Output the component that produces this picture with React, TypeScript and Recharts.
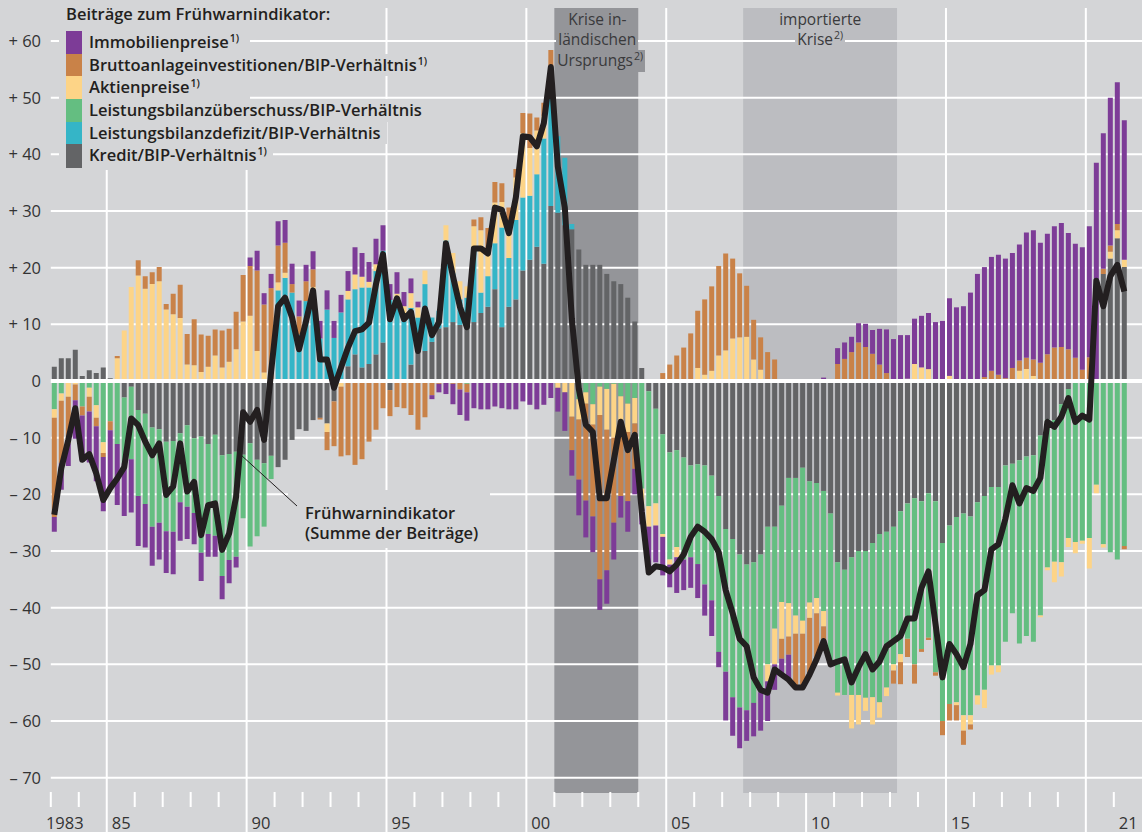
import React from "react";
import {
  Bar,
  ComposedChart,
  Line,
  ReferenceArea,
  ReferenceLine,
  XAxis,
  YAxis,
} from "recharts";

// quarterly contributions, 1983 Q1 - 2021 Q2 (four values per row = one year)
const FIRST_YEAR = 1983;

const kredit = [
  2.5, 4.0, 4.0, 5.5, 0.9, 1.9, 1.4, 2.4,
  0.5, 0, -2.9, -1.0, -5.1, -5.8, -8.2, -8.5,
  -10.7, -10.6, -9.2, -7.8, -10.1, -9.8, -11.1, -9.5,
  -13.1, -12.9, -12.5, -13.0, -11.0, -13.9, -14.5, -13.2,
  -15.2, -13.9, -10.4, -8.5, -8.8, -6.9, -6.5, -7.5,
  -3.6, 0, 2.6, 4.7, 2.4, 3.0, 4.7, 6.8,
  -1.6, 0, 0, 2.9, 5.3, 5.3, 6.9, 9.3,
  9.5, 10.4, 9.9, 10.2, 10.4, 12.0, 13.1, 16.2,
  9.5, 13.1, 14.4, 19.5, 21.4, 23.7, 20.7, 30.9,
  29.7, 27.5, 26.8, 23.2, 20.5, 20.5, 20.5, 18.9,
  17.6, 17.1, 14.7, 10.5, 2.3, -1.8, -4.9, -9.4,
  -12.6, -12.2, -13.5, -14.9, -14.7, -14.9, -16.7, -20.3,
  -26.1, -27.9, -30.6, -32.4, -32.0, -30.6, -25.7, -25.7,
  -22.0, -17.1, -17.1, -15.3, -17.7, -18.0, -19.4, -23.4,
  -32.0, -33.3, -31.1, -30.0, -30.0, -28.6, -27.0, -26.6,
  -25.7, -23.0, -21.6, -20.7, -21.2, -19.8, -21.2, -28.6,
  -25.5, -24.0, -23.4, -23.9, -21.4, -20.3, -18.7, -18.7,
  -14.9, -14.6, -14.0, -13.3, -13.1, -9.6, -6.8, -6.9,
  -4.1, -1.4, 0, 0, 0, 0, 18.9, 21.6,
  25.2, 20.1,
];

const lbDefizit = [
  0, 0, 0, 0, 0, 0, 0, 0,
  0, 0, 0, 0, 0, 0, 0, 0,
  0, 0, 0, 0, 0, 0, 0, 0,
  0, 0, 0, 0, 0, 0, 0, 0,
  16.0, 18.2, 15.6, 8.2, 14.1, 15.9, 7.5, 12.6,
  7.6, 12.1, 11.8, 11.5, 14.1, 13.5, 14.7, 16.2,
  14.3, 14.6, 12.0, 10.0, 5.9, 11.8, 4.3, 3.1,
  15.3, 8.6, 4.5, 4.5, 12.9, 3.6, 5.4, 8.1,
  17.6, 8.6, 14.0, 12.9, 11.3, 12.8, 22.1, 24.5,
  13.5, 11.9, 0.9, 0, 0, 0, 0, 0,
  0, 0, 0, 0, 0, 0, 0, 0,
  0, 0, 0, 0, 0, 0, 0, 0,
  0, 0, 0, 0, 0, 0, 0, 0,
  0, 0, 0, 0, 0, 0, 0, 0,
  0, 0, 0, 0, 0, 0, 0, 0,
  0, 0, 0, 0, 0, 0, 0, 0,
  0, 0, 0, 0, 0, 0, 0, 0,
  0, 0, 0, 0, 0, 0, 0, 0,
  0, 0, 0, 0, 0, 0, 0, 0,
  0, 0,
];

const lbUeberschuss = [
  -5.0, -2.2, 0, 0, -4.5, -1.2, -4.3, -10.8,
  -7.1, -11.1, -11.6, -12.8, -15.2, -15.9, -17.5, -16.5,
  -15.8, -16.0, -12.2, -14.4, -13.2, -20.5, -15.9, -17.8,
  -21.3, -18.7, -18.5, -11.2, -18.2, -13.5, -11.2, -4.1,
  0, 0, 0, 0, 0, 0, 0, 0,
  0, 0, 0, 0, 0, 0, 0, 0,
  0, 0, 0, 0, 0, 0, 0, 0,
  0, 0, 0, -0.5, 0, 0, 0, 0,
  0, 0, 0, 0, 0, 0, 0, 0,
  0, 0, 0, -3.2, -2.0, -4.1, -1.0, -1.4,
  -0.5, -2.7, -4.0, -3.0, -19.0, -20.3, -16.7, -17.6,
  -18.9, -17.1, -18.0, -16.2, -17.6, -21.0, -22.0, -27.5,
  -25.2, -27.9, -27.0, -25.7, -24.8, -24.3, -24.3, -18.0,
  -17.0, -22.1, -24.3, -27.0, -21.4, -20.3, -21.2, -26.1,
  -23.0, -22.1, -24.3, -25.4, -25.9, -27.2, -29.7, -27.5,
  -24.3, -25.2, -23.9, -29.3, -26.1, -25.5, -30.2, -31.4,
  -31.5, -32.7, -35.6, -35.1, -34.1, -34.2, -31.5, -31.5,
  -31.1, -26.4, -32.3, -31.7, -32.9, -31.8, -26.1, -25.0,
  -27.9, -26.3, -28.4, -28.2, -27.7, -18.3, -28.8, -30.2,
  -31.5, -29.1,
];

const aktien = [
  -1.5, -1.3, -2.8, -0.6, 0, -1.6, -2.2, -1.9,
  0, 4.0, 8.9, 16.6, 18.6, 16.3, 17.1, 17.6,
  12.6, 11.8, 11.1, 2.9, 2.8, 1.6, 2.5, 4.5,
  2.4, 3.4, 5.6, 10.5, 11.5, 5.3, 1.5, 0,
  1.4, 0.9, 0, 0, 0, 0.7, 0, -1.5,
  0, -1.0, 1.5, 2.6, 1.9, 1.0, 1.2, 0,
  0, 0.8, 1.2, 2.6, 1.8, 2.4, 0, 0,
  2.7, 3.6, 3.2, 2.0, 4.0, 11.0, 4.0, 7.2,
  4.5, 5.4, 7.5, 11.3, 8.4, 7.7, 4.0, 0,
  -1.2, -2.0, -6.3, -3.6, -2.0, -3.6, -5.0, -7.2,
  -9.5, -5.0, -5.0, -4.5, -3.5, -3.6, -3.9, -0.5,
  -0.9, -1.8, 0, 0, 2.3, 1.1, 1.8, 4.5,
  5.4, 7.5, 7.7, 7.8, 3.8, 2.0, -3.0, -6.3,
  -6.5, -5.9, -3.2, -2.3, -2.7, -2.7, -2.7, -0.5,
  -0.5, 0, -5.9, -5.2, -2.3, -4.8, -2.7, -1.5,
  -1.1, -1.4, 0.4, 3.0, 2.4, 2.1, 0, 0,
  0.9, -0.5, -2.7, -1.6, -1.6, -3.2, -1.6, -1.2,
  0, 0, 1.8, 2.1, 0.9, -0.3, -0.5, -3.6,
  -2.5, -1.6, -2.0, -0.5, -5.4, -1.5, -0.6, 1.2,
  1.4, 1.3,
];

const brutto = [
  -17.5, -11.0, -8.2, -2.8, -1.6, -2.6, -1.5, -0.7,
  -1.6, 0.4, 0, 0, 2.7, 2.2, 2.1, 2.5,
  1.0, 3.6, 5.9, 5.4, 8.1, 6.6, 5.5, 4.6,
  6.5, 5.8, 6.6, 8.2, 8.8, 14.2, 12.0, 16.4,
  6.5, 5.3, 1.5, 3.2, 3.5, 3.1, -0.3, -3.2,
  -7.9, -12.3, -13.1, -14.8, -13.8, -10.7, -8.6, -4.8,
  -4.6, -4.6, -4.8, -6.0, -8.6, -6.4, -2.5, -0.5,
  0, -0.5, -1.5, -1.5, 1.2, 2.3, 4.5, 3.6,
  3.3, 3.5, 1.5, 3.6, 6.1, 2.3, 2.3, 3.0,
  0, 0, -5.9, -10.6, -17.1, -16.2, -29.0, -24.8,
  -15.0, -12.6, -12.2, -8.0, 0, 0, 0, 1.4,
  2.9, 4.5, 5.9, 8.4, 10.1, 13.3, 14.9, 15.8,
  17.1, 14.1, 11.3, 9.0, 7.0, 5.7, 5.1, 3.8,
  -3.5, -3.2, -9.4, -9.5, -9.9, -8.1, -3.6, 0,
  3.0, 3.9, 5.1, 6.8, 6.0, 4.8, 2.9, 1.4,
  -2.3, -3.9, -3.2, -3.4, -0.5, -0.4, -0.6, -2.5,
  -2.9, -2.7, -2.5, -0.9, 0, 0.7, 1.8, 1.1,
  0.5, 2.3, 1.8, 2.0, 2.9, 3.2, 4.7, 5.9,
  6.0, 5.6, 4.1, 2.0, 4.2, 0, 0.9, 1.1,
  1.1, -0.6,
];

const immobilien = [
  -2.6, -4.7, -4.0, -6.8, -8.2, -9.0, -9.7, -9.6,
  -10.5, -10.8, -9.3, -9.4, -8.8, -7.7, -6.9, -6.5,
  -7.4, -7.5, -6.8, -5.7, -5.5, -5.0, -4.0, -3.7,
  -4.1, -4.1, -1.9, 0, 1.5, 3.5, 2.0, 2.5,
  4.3, 4.0, 3.6, 2.8, 2.9, 3.2, 3.1, 3.4,
  3.0, 3.1, 3.5, 4.8, 4.2, 3.5, 4.5, 4.5,
  2.8, 3.8, 2.5, 2.6, 1.0, 0, -0.7, -1.5,
  -2.3, -3.6, -4.5, -5.0, -4.8, -5.0, -5.0, -4.5,
  -4.8, -5.0, -5.0, -3.6, -4.2, -5.0, -4.2, -3.0,
  -4.2, -6.8, -4.5, -6.3, -6.5, -6.3, -5.4, -5.9,
  -6.5, -3.8, -5.4, -4.5, -2.8, -8.1, -6.5, -6.8,
  -4.0, -6.3, -5.4, -5.4, -6.0, -5.5, -6.3, -2.7,
  -8.6, -6.8, -7.2, -5.4, -5.9, -6.8, -7.0, -4.5,
  -2.8, -4.4, 0, 0, 0, 0, 0.6, 0,
  2.8, 2.9, 2.7, 3.4, 4.1, 4.2, 6.3, 7.7,
  7.4, 8.1, 7.7, 8.0, 9.1, 9.9, 10.4, 10.6,
  13.7, 13.0, 13.2, 15.6, 18.9, 19.4, 20.1, 21.2,
  21.1, 20.3, 20.5, 22.1, 22.8, 21.2, 21.3, 21.4,
  21.9, 20.5, 20.1, 21.6, 23.1, 38.5, 23.9, 26.1,
  25.0, 24.6,
];

const fruehwarn = [
  -23.6, -15.4, -10.4, -4.8, -13.9, -12.9, -16.3, -21.0,
  -18.9, -17.2, -15.2, -6.6, -7.8, -10.7, -13.1, -11.0,
  -20.1, -18.6, -11.0, -19.5, -17.8, -27.2, -21.9, -21.6,
  -29.8, -26.9, -20.4, -5.5, -7.2, -5.1, -10.4, 1.6,
  13.2, 14.7, 11.2, 5.6, 10.6, 16.0, 3.8, 3.8,
  -1.2, 2.4, 5.9, 8.8, 9.1, 10.3, 17.1, 22.4,
  10.9, 14.6, 10.9, 12.2, 5.3, 12.8, 8.1, 10.4,
  24.3, 18.5, 13.1, 9.5, 23.4, 23.4, 22.5, 30.6,
  30.2, 26.1, 32.4, 43.2, 43.0, 41.4, 45.5, 55.4,
  37.8, 30.6, 11.0, -1.4, -7.7, -9.0, -20.7, -20.7,
  -14.0, -7.2, -12.2, -9.5, -23.0, -33.8, -32.7, -32.9,
  -33.6, -32.4, -30.6, -27.5, -25.7, -26.6, -27.9, -30.2,
  -36.9, -41.0, -45.5, -46.8, -52.3, -54.5, -55.0, -50.9,
  -51.8, -52.7, -54.1, -54.1, -51.8, -49.1, -45.9, -50.0,
  -49.5, -49.1, -53.2, -50.5, -48.2, -50.9, -49.5, -46.8,
  -45.9, -45.0, -41.9, -41.9, -36.5, -33.6, -42.8, -52.3,
  -46.4, -48.2, -50.5, -46.4, -37.8, -36.9, -29.7, -28.8,
  -24.3, -18.4, -21.6, -18.9, -19.4, -17.1, -7.2, -8.1,
  -6.3, -3.0, -7.2, -6.1, -6.8, 17.7, 13.2, 18.5,
  20.5, 15.8,
];

const yTicks = [-70, -60, -50, -40, -30, -20, -10, 0, 10, 20, 30, 40, 50, 60];
const yearLabels: Record<number, string> = {
  1983: "1983", 1985: "85", 1990: "90", 1995: "95", 2000: "00",
  2005: "05", 2010: "10", 2015: "15", 2021: "21",
};
const lastYear = 2021;

const quarters = kredit.map(
  (_, i) => `${FIRST_YEAR + Math.floor(i / 4)} Q${(i % 4) + 1}`
);

const data = quarters.map((q, i) => ({
  idx: i,
  q,
  kredit: kredit[i],
  defizit: lbDefizit[i],
  ueberschuss: lbUeberschuss[i],
  aktien: aktien[i],
  brutto: brutto[i],
  immobilien: immobilien[i],
  fwi: fruehwarn[i],
}));

// year boundaries on the quarter index axis
const yearStart = (y: number) => (y - FIRST_YEAR) * 4 - 0.5;
const years: number[] = [];
for (let y = FIRST_YEAR; y <= lastYear; y++) years.push(y);
const yearTicks = years.map(yearStart);
const fiveYearLines = years.filter((y) => y % 5 === 0).map(yearStart);

const BG = "#d4d5d7";
const DARK = "#949599";
const LIGHT = "#bcbdc1";
const FONT = "'Open Sans', 'Noto Sans', sans-serif";
const TEXT = "#231f20";

const COLORS = {
  immobilien: "#7d3c97",
  brutto: "#c98248",
  aktien: "#fdd487",
  ueberschuss: "#64be81",
  defizit: "#35b5c7",
  kredit: "#636466",
};

function YearTick(props: any) {
  const { x, payload } = props;
  const year = Math.round((payload.value + 0.5) / 4) + FIRST_YEAR;
  const long = year % 5 === 0;
  const label = yearLabels[year];
  return (
    <g>
      {long ? (
        <line x1={x} x2={x} y1={793} y2={832} stroke="#fff" strokeWidth={2} />
      ) : (
        <line x1={x} x2={x} y1={792} y2={807} stroke="#fff" strokeWidth={2} />
      )}
      {label && (
        <text
          x={year === FIRST_YEAR ? x + 14 : x + 5}
          y={828.5}
          textAnchor={year === FIRST_YEAR ? "middle" : "start"}
          fontSize={16.5}
          fontFamily={FONT}
          fill="#333"
        >
          {label}
        </text>
      )}
    </g>
  );
}

function ValueTick(props: any) {
  const { y, payload } = props;
  const v = payload.value;
  const label = v > 0 ? `+ ${v}` : v < 0 ? `– ${-v}` : "0";
  return (
    <text
      x={41}
      y={y + 6}
      textAnchor="end"
      fontSize={16.5}
      fontFamily={FONT}
      fill="#333"
    >
      {label}
    </text>
  );
}

const Sup = ({ children }: { children: React.ReactNode }) => (
  <span style={{ fontSize: 10.5, position: "relative", top: -6, marginLeft: 1 }}>
    {children}
  </span>
);

const legendRows = [
  { color: COLORS.immobilien, label: "Immobilienpreise", sup: true },
  { color: COLORS.brutto, label: "Bruttoanlageinvestitionen/BIP-Verhältnis", sup: true },
  { color: COLORS.aktien, label: "Aktienpreise", sup: true },
  { color: COLORS.ueberschuss, label: "Leistungsbilanzüberschuss/BIP-Verhältnis", sup: false },
  { color: COLORS.defizit, label: "Leistungsbilanzdefizit/BIP-Verhältnis", sup: false },
  { color: COLORS.kredit, label: "Kredit/BIP-Verhältnis", sup: true },
];

const ROW_H = 22.67;

function Legend() {
  return (
    <div
      style={{
        position: "absolute",
        left: 0,
        top: 0,
        fontFamily: FONT,
        fontWeight: 600,
        fontSize: 16.5,
        color: TEXT,
        lineHeight: `${ROW_H}px`,
      }}
    >
      <div style={{ position: "absolute", left: 59, top: 0, width: 191, height: 170, background: BG }} />
      <div
        style={{
          position: "absolute",
          left: 59,
          top: 3,
          paddingLeft: 7,
          paddingRight: 6,
          background: BG,
          whiteSpace: "nowrap",
        }}
      >
        Beiträge zum Frühwarnindikator:
      </div>
      {legendRows.map((r, i) => (
        <div
          key={r.label}
          style={{
            position: "absolute",
            left: 59,
            top: 31 + i * ROW_H,
            height: ROW_H,
            display: "flex",
            paddingLeft: 7,
            paddingRight: 6,
            background: BG,
            whiteSpace: "nowrap",
          }}
        >
          <div style={{ width: 16, height: ROW_H + 0.5, background: r.color }} />
          <span style={{ marginLeft: 7 }}>
            {r.label}
            {r.sup && <Sup>1)</Sup>}
          </span>
        </div>
      ))}
    </div>
  );
}

function CrisisLabel({
  left,
  width,
  lines,
  bg,
}: {
  left: number;
  width: number;
  lines: React.ReactNode[];
  bg: string;
}) {
  return (
    <div
      style={{
        position: "absolute",
        left,
        top: 8.5,
        width,
        textAlign: "center",
        fontFamily: FONT,
        fontSize: 15.5,
        lineHeight: "20.5px",
        color: "#3a3a3c",
      }}
    >
      {lines.map((l, i) => (
        <div key={i}>
          <span style={{ display: "inline-block", background: bg, padding: "0 2px", whiteSpace: "nowrap" }}>{l}</span>
        </div>
      ))}
    </div>
  );
}

export default function App() {
  return (
    <div
      style={{
        position: "absolute",
        left: 0,
        top: 0,
        width: 1142,
        height: 832,
        background: BG,
        overflow: "hidden",
      }}
    >
      <ComposedChart
        width={1142}
        height={832}
        data={data}
        stackOffset="sign"
        margin={{ top: 8, right: 0, bottom: 0, left: 0 }}
      >
        <XAxis
          type="number"
          dataKey="idx"
          domain={[-0.5, 153.5]}
          allowDataOverflow
          ticks={yearTicks}
          interval={0}
          height={39}
          padding={{ left: 0, right: 14.2 }}
          axisLine={false}
          tickLine={false}
          tick={<YearTick />}
        />
        <YAxis
          type="number"
          domain={[-72.7, 65.82]}
          allowDataOverflow
          ticks={yTicks}
          interval={0}
          width={50.8}
          axisLine={false}
          tickLine={false}
          tick={<ValueTick />}
        />
        {fiveYearLines.map((x) => (
          <ReferenceLine key={`v${x}`} x={x} stroke="#fff" strokeWidth={2} zIndex={-400} />
        ))}
        <ReferenceArea x1={71.5} x2={83.5} fill={DARK} fillOpacity={1} stroke="none" zIndex={-300} />
        <ReferenceArea x1={98.5} x2={120.5} fill={LIGHT} fillOpacity={1} stroke="none" zIndex={-300} />
        {yTicks
          .filter((v) => v !== 0)
          .map((v) => (
            <ReferenceLine key={`h${v}`} y={v} stroke="#fff" strokeWidth={2} zIndex={-200} />
          ))}
        <Bar dataKey="kredit" stackId="s" fill={COLORS.kredit} barSize={5} isAnimationActive={false} />
        <Bar dataKey="defizit" stackId="s" fill={COLORS.defizit} barSize={5} isAnimationActive={false} />
        <Bar dataKey="ueberschuss" stackId="s" fill={COLORS.ueberschuss} barSize={5} isAnimationActive={false} />
        <Bar dataKey="aktien" stackId="s" fill={COLORS.aktien} barSize={5} isAnimationActive={false} />
        <Bar dataKey="brutto" stackId="s" fill={COLORS.brutto} barSize={5} isAnimationActive={false} />
        <Bar dataKey="immobilien" stackId="s" fill={COLORS.immobilien} barSize={5} isAnimationActive={false} />
        <ReferenceLine y={0} stroke="#fff" strokeWidth={4} zIndex={350} />
        <Line
          dataKey="fwi"
          type="linear"
          stroke={TEXT}
          strokeWidth={6}
          strokeLinejoin="round"
          dot={false}
          activeDot={false}
          isAnimationActive={false}
        />
      </ComposedChart>

      <Legend />

      <CrisisLabel
        left={555.3}
        width={84}
        bg={DARK}
        lines={["Krise in-", "ländischen", <>Ursprungs<Sup>2)</Sup></>]}
      />
      <CrisisLabel
        left={743.2}
        width={154}
        bg={LIGHT}
        lines={["importierte", <>Krise<Sup>2)</Sup></>]}
      />

      <div
        style={{
          position: "absolute",
          left: 288,
          top: 490,
          width: 202,
          height: 58,
          background: BG,
        }}
      />
      <div
        style={{
          position: "absolute",
          left: 305,
          top: 502.6,
          fontFamily: FONT,
          fontWeight: 600,
          fontSize: 16.5,
          lineHeight: "20px",
          color: TEXT,
          whiteSpace: "nowrap",
        }}
      >
        Frühwarnindikator
        <br />
        (Summe der Beiträge)
      </div>
      <svg
        width={1142}
        height={832}
        style={{ position: "absolute", left: 0, top: 0, pointerEvents: "none" }}
      >
        <line x1={241} y1={455} x2={297} y2={506} stroke={TEXT} strokeWidth={1} />
      </svg>
    </div>
  );
}
